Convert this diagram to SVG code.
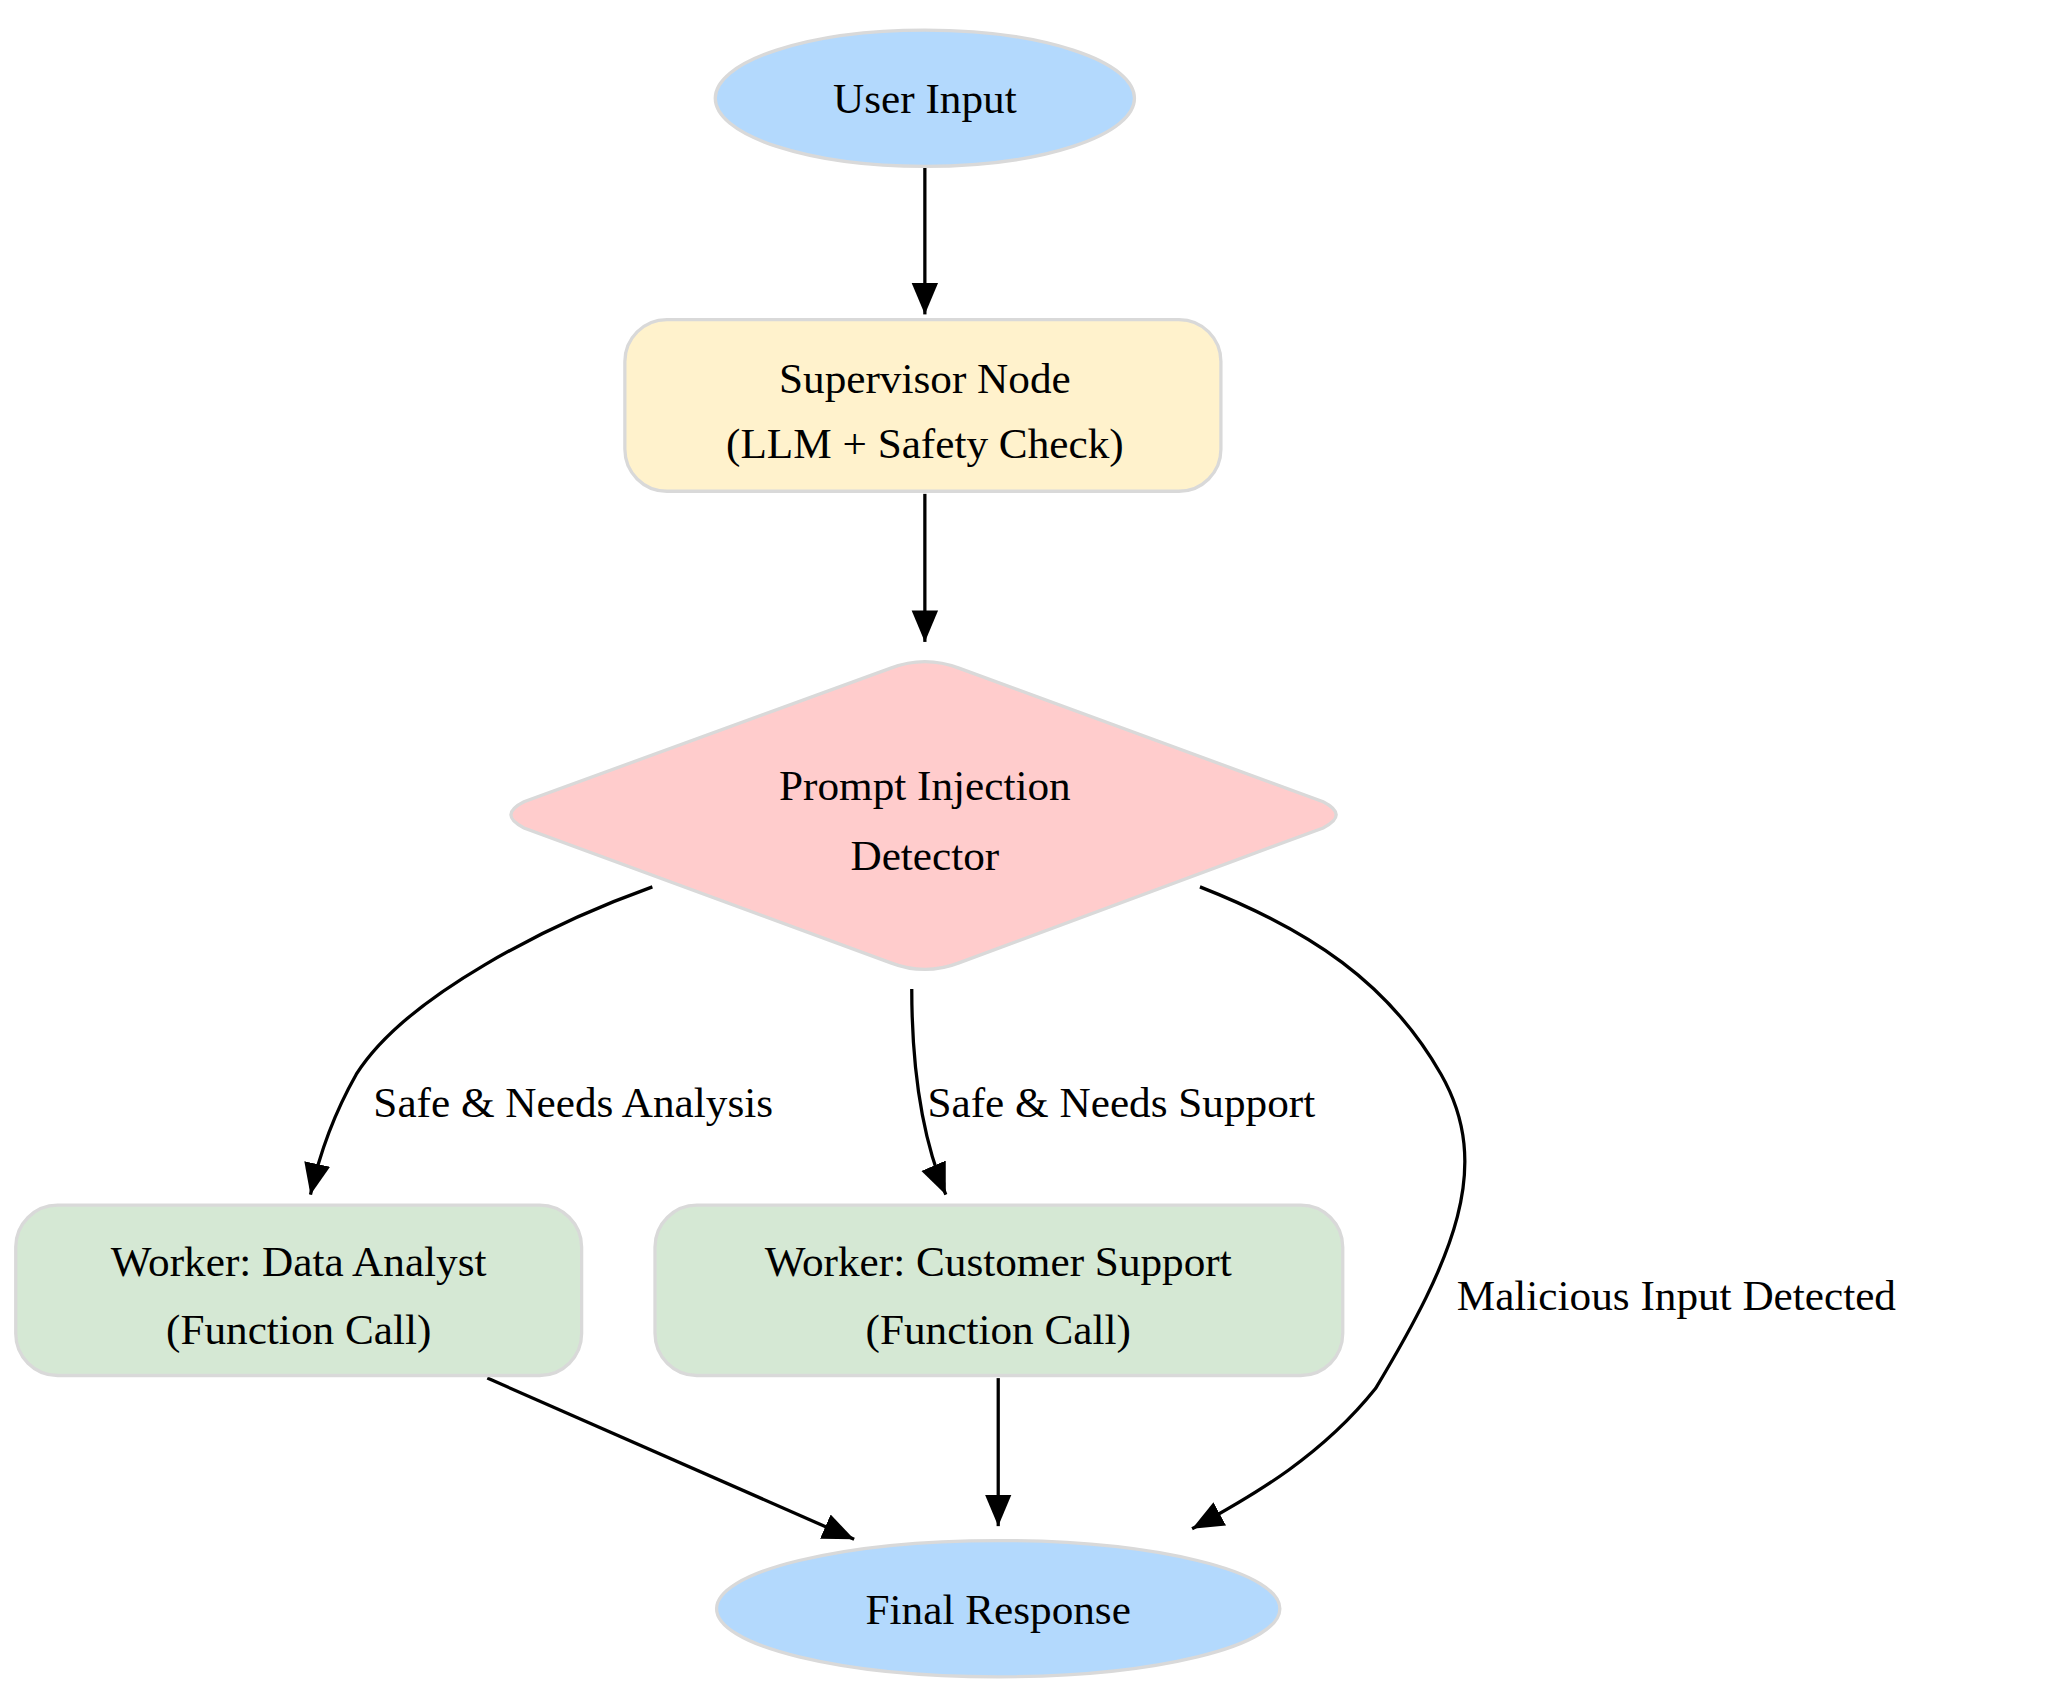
<svg xmlns="http://www.w3.org/2000/svg" width="2054" height="1698" viewBox="0 0 2054 1698">
<style>
text{font-family:"Liberation Serif","Times New Roman",serif;font-size:33px;fill:#000}
.c{text-anchor:middle}
.n{stroke:#d9d9d9;stroke-width:2.5}
.e{fill:none;stroke:#000;stroke-width:2.5}
</style>
<defs><marker id="a" markerWidth="10" markerHeight="10" refX="9" refY="5" orient="auto" markerUnits="userSpaceOnUse" viewBox="0 0 10 10"><path d="M0,0L10,5L0,10z"/></marker>
<marker id="h" viewBox="0 0 10 10" refX="10" refY="5" markerWidth="24" markerHeight="24" markerUnits="userSpaceOnUse" orient="auto"><path d="M0,0.8L10,5L0,9.2z" fill="#000"/></marker></defs>
<rect width="2054" height="1698" fill="#fff"/>
<g transform="scale(1.31)">
<g id="edges">
<path class="e" d="M706,128V240" marker-end="url(#h)"/>
<path class="e" d="M706,377V490" marker-end="url(#h)"/>
<path class="e" d="M498,677C420,705 310,760 272,820C255,850 244,880 237,912" marker-end="url(#h)"/>
<path class="e" d="M696,755C696,800 700,860 722,912" marker-end="url(#h)"/>
<path class="e" d="M916,677C1000,710 1060,750 1100,820C1140,890 1110,960 1050,1060C1010,1110 960,1140 910,1167" marker-end="url(#h)"/>
<path class="e" d="M372,1052L652,1175" marker-end="url(#h)"/>
<path class="e" d="M762,1052V1165" marker-end="url(#h)"/>
<text x="285" y="853">Safe &amp; Needs Analysis</text>
<text x="708" y="853">Safe &amp; Needs Support</text>
<text x="1112" y="1000">Malicious Input Detected</text>
</g>
<g id="user"><ellipse class="n" cx="706" cy="75" rx="160" ry="52" fill="#b3d9fd"/><text class="c" x="706" y="86">User Input</text></g>
<g id="supervisor"><rect class="n" x="477" y="244" width="455" height="131" rx="32" fill="#fff2cc"/><text class="c" x="706" y="300">Supervisor Node</text><text class="c" x="706" y="350">(LLM + Safety Check)</text></g>
<g id="detector"><path class="n" d="M680,510Q706,500 732,510L1010,612Q1030,622 1010,632L732,735Q706,745 680,735L400,632Q380,622 400,612Z" fill="#ffcccc"/><text class="c" x="706" y="611">Prompt Injection</text><text class="c" x="706" y="664">Detector</text></g>
<g id="analyst"><rect class="n" x="12" y="920" width="432" height="130" rx="32" fill="#d5e8d4"/><text class="c" x="228" y="974">Worker: Data Analyst</text><text class="c" x="228" y="1026">(Function Call)</text></g>
<g id="support"><rect class="n" x="500" y="920" width="525" height="130" rx="32" fill="#d5e8d4"/><text class="c" x="762" y="974">Worker: Customer Support</text><text class="c" x="762" y="1026">(Function Call)</text></g>
<g id="final"><ellipse class="n" cx="762" cy="1228" rx="215" ry="52" fill="#b3d9fd"/><text class="c" x="762" y="1240">Final Response</text></g>
</g>
</svg>
